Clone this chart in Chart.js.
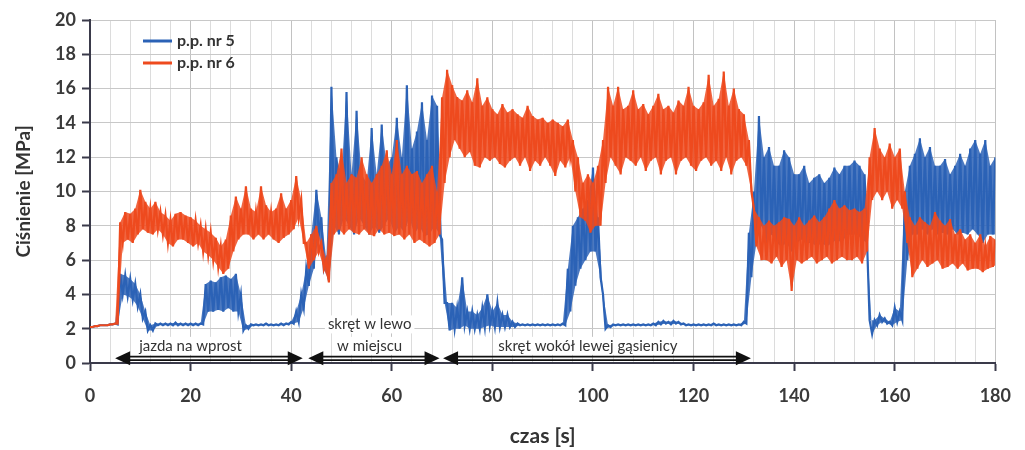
<!DOCTYPE html>
<html>
<head>
<meta charset="utf-8">
<script src="https://cdn.jsdelivr.net/npm/chart.js@4/dist/chart.umd.min.js"></script>
<style>
  body { margin: 0; background: #fff; }
  #wrap { width: 1025px; height: 450px; }
</style>
</head>
<body>
<div id="wrap"><canvas id="pressure" width="1025" height="450"></canvas></div>
<script>
// values read per second (t = 0..180): upper and lower edge of each noisy trace
const ppNr5Hi = [
  2.1, 2.15, 2.2, 2.2, 2.25, 2.3, 5.2, 5.1, 4.9, 4.6,
  4.0, 3.0, 2.2, 2.3, 2.3, 2.3, 2.3, 2.35, 2.3, 2.3,
  2.3, 2.3, 2.3, 4.6, 4.8, 4.7, 5.0, 5.1, 4.9, 5.2,
  4.0, 2.2, 2.25, 2.25, 2.25, 2.3, 2.25, 2.25, 2.3, 2.3,
  2.4, 3.0, 4.0, 5.5, 7.5, 10.1, 8.5, 6.0, 16.1, 12.0,
  11.0, 15.8, 11.0, 14.7, 11.0, 10.5, 13.7, 11.0, 13.9, 11.5,
  12.0, 14.3, 12.0, 16.2, 12.5, 13.5, 15.2, 13.0, 15.6, 15.0,
  7.2, 3.5, 3.5, 3.2, 5.0, 3.0, 3.0, 2.8, 3.2, 4.0,
  3.0, 3.5, 2.8, 2.8, 2.4, 2.3, 2.25, 2.25, 2.25, 2.25,
  2.25, 2.25, 2.25, 2.25, 2.3, 5.5, 8.0, 8.5, 9.0, 9.5,
  11.4, 8.5, 4.0, 2.2, 2.25, 2.25, 2.25, 2.25, 2.25, 2.25,
  2.25, 2.25, 2.3, 2.4, 2.45, 2.4, 2.45, 2.4, 2.3, 2.25,
  2.25, 2.25, 2.25, 2.25, 2.3, 2.25, 2.25, 2.25, 2.25, 2.25,
  2.4, 7.6, 10.0, 14.4, 12.0, 12.6, 11.5, 11.5, 12.4, 12.0,
  11.0, 11.0, 11.5, 10.5, 10.8, 11.0, 10.5, 10.8, 11.4, 11.0,
  11.5, 11.5, 11.8, 11.5, 11.0, 2.5, 2.5, 2.8, 2.6, 2.4,
  3.2, 3.0, 10.0, 11.5, 12.2, 13.1, 12.0, 12.6, 11.5, 11.5,
  11.9, 11.0, 11.5, 12.2, 11.5, 12.5, 13.0, 12.2, 13.0, 11.5,
  12.0
];
const ppNr5Lo = [
  2.1, 2.15, 2.2, 2.2, 2.25, 2.25, 4.0, 3.9, 3.7, 3.3,
  2.6, 1.9, 1.9, 2.2, 2.2, 2.2, 2.2, 2.2, 2.2, 2.2,
  2.2, 2.2, 2.25, 3.0, 3.0, 3.1, 3.0, 3.2, 3.0, 3.0,
  1.9, 2.0, 2.2, 2.2, 2.2, 2.2, 2.2, 2.2, 2.2, 2.25,
  2.3, 2.4, 3.2, 4.5, 5.5, 7.5, 5.5, 4.8, 8.0, 7.5,
  8.5, 8.0, 7.5, 8.5, 8.0, 7.5, 8.0, 7.6, 8.0, 8.5,
  7.5, 8.0, 7.6, 8.5, 7.5, 8.0, 7.4, 7.5, 8.0, 7.5,
  3.5, 1.9, 2.0, 2.0, 2.2, 2.0, 2.0, 2.0, 2.1, 2.2,
  2.1, 2.1, 2.1, 2.1, 2.1, 2.2, 2.2, 2.2, 2.2, 2.2,
  2.2, 2.2, 2.2, 2.2, 2.2, 3.0, 4.5, 5.5, 6.0, 6.5,
  6.5, 5.0, 2.0, 2.1, 2.2, 2.2, 2.2, 2.2, 2.2, 2.2,
  2.2, 2.2, 2.2, 2.25, 2.3, 2.25, 2.3, 2.25, 2.2, 2.2,
  2.2, 2.2, 2.2, 2.2, 2.2, 2.2, 2.2, 2.2, 2.2, 2.2,
  2.3, 5.0, 7.0, 8.0, 7.0, 7.5, 7.0, 6.8, 7.0, 6.5,
  7.0, 7.2, 7.0, 7.0, 6.8, 7.0, 6.8, 7.0, 7.2, 7.0,
  7.5, 7.5, 7.5, 7.2, 7.0, 1.7, 2.2, 2.4, 2.3, 2.2,
  2.4, 2.5, 6.0, 7.5, 7.5, 7.8, 7.5, 7.8, 7.5, 7.6,
  7.5, 7.8, 7.5, 7.6, 7.5, 7.8, 7.5, 7.0, 7.5, 7.5,
  7.5
];
const ppNr6Hi = [
  2.1, 2.15, 2.2, 2.2, 2.25, 2.3, 8.2, 8.8, 8.7, 9.0,
  10.1, 9.4, 9.0, 9.4, 8.8, 8.6, 8.3, 8.7, 8.8, 8.6,
  8.5, 8.3, 8.0, 7.8, 7.6, 7.3, 6.8, 7.2, 8.6, 9.7,
  9.0, 10.3, 9.0, 8.8, 10.3, 9.2, 8.8, 9.0, 9.9, 9.0,
  9.5, 10.9, 9.5, 7.0, 7.5, 8.0, 7.0, 6.0, 10.5, 11.0,
  12.5, 10.5, 11.0, 10.8, 12.0, 11.0, 10.5, 11.0, 11.5, 12.4,
  11.0, 13.0, 11.0, 11.5, 11.0, 11.2, 10.5, 11.0, 11.5, 10.0,
  15.5, 17.1, 16.2, 15.5, 15.3, 15.9, 15.2, 16.6, 15.0, 15.5,
  14.8, 14.5, 15.1, 14.6, 14.8, 14.5, 14.3, 15.0, 14.4, 14.2,
  14.3, 14.0, 14.2, 14.0, 13.8, 14.2, 13.0, 12.0, 10.5, 11.0,
  10.5, 11.5, 13.0, 16.1, 15.0, 16.1, 14.8, 15.0, 15.9, 14.8,
  15.1, 14.5, 15.0, 15.7, 14.8, 15.0, 14.6, 15.3, 15.0, 16.1,
  15.0, 14.8, 15.2, 16.8, 15.0, 15.4, 17.0, 15.0, 16.0, 14.8,
  14.5, 13.0, 9.0, 8.5, 8.0, 8.3, 8.0, 8.2, 8.5, 8.4,
  8.0, 8.5, 8.0, 8.3, 8.6, 8.2, 8.5, 9.0, 9.5, 9.0,
  9.2, 8.9, 9.0, 8.8, 9.0, 12.0, 13.7, 12.5, 12.0, 12.8,
  12.0, 12.5, 10.0, 8.5, 8.0, 8.5, 8.2, 8.0, 8.8, 8.3,
  8.0, 8.4, 7.5, 7.8, 7.2, 7.5, 7.0, 7.5, 6.8, 7.4,
  7.2
];
const ppNr6Lo = [
  2.1, 2.15, 2.2, 2.2, 2.25, 2.3, 7.0, 7.2, 7.0, 7.5,
  7.8, 7.6, 7.5, 7.8, 7.5, 7.0, 6.8, 7.2, 7.2, 7.0,
  6.8, 7.0, 6.5, 6.3, 6.0, 5.6, 5.2, 5.5, 6.5, 7.2,
  7.5, 7.5, 7.2, 7.5, 7.2, 7.5, 7.2, 7.0, 7.3, 7.5,
  7.8, 8.5, 7.0, 5.5, 6.0, 6.5, 5.5, 4.7, 7.5, 7.8,
  7.5, 7.8, 7.6, 7.5, 7.8, 7.5, 7.4, 7.8, 7.5, 7.6,
  7.4, 7.5, 7.2, 7.5, 7.0, 7.2, 7.0, 6.8, 7.0, 7.5,
  10.5, 12.0, 13.0, 12.5, 12.0, 12.3, 11.5, 11.4, 12.0, 11.8,
  12.0, 11.6, 11.4, 11.8, 12.0, 11.5, 12.0, 11.2, 11.8, 11.5,
  12.0, 11.5, 10.9, 11.8, 11.4, 12.0, 10.0, 8.5, 8.3, 7.6,
  8.0, 8.0, 10.5, 12.0, 11.5, 11.0, 12.0, 11.8, 11.5, 12.0,
  11.2, 11.8, 12.0, 11.0, 11.8, 12.0, 11.0, 11.8, 12.0, 11.5,
  11.2, 11.8, 12.0, 11.5, 11.8, 11.2, 12.0, 11.0, 11.8, 12.0,
  11.5, 10.0, 6.8, 6.0, 6.0, 5.8, 6.2, 5.6, 6.0, 4.2,
  6.0, 5.8, 6.0, 6.2, 5.8, 6.0, 6.2, 5.8, 6.0, 6.2,
  6.0, 6.0, 6.2, 5.8, 6.5, 9.5, 10.0, 9.5, 10.0, 9.0,
  9.5, 9.0, 7.0, 5.0, 5.5, 6.0, 5.6, 5.8, 6.0, 5.5,
  5.6, 5.8, 5.5, 5.8, 5.4, 5.5, 5.5, 5.3, 5.5, 5.6,
  5.8
];

// driving phases shown with arrows under the traces
const phaseFrom = [5.0, 43.4, 70.2];
const phaseTo = [42.3, 69.5, 131.4];
const phaseTextAt = [20, 55.6, 99];
const phaseText = [['jazda na wprost'], ['skręt w lewo', 'w miejscu'], ['skręt wokół lewej gąsienicy']];

const seriesNames = ['p.p. nr 5', 'p.p. nr 6'];
const blue = '#2b62b6';
const orange = '#ee4a1e';
const blueBand = 'rgba(43,98,182,0.85)';
const orangeBand = 'rgba(238,74,30,0.85)';
const fontFamily = 'Lato, "Open Sans", sans-serif';

// hi value at t, lo value half a second later -> dense zigzag trace
const zigzag = (hi, lo) => {
  const pts = [];
  hi.forEach((v, t) => {
    pts.push({x: t, y: v});
    if (t < hi.length - 1) pts.push({x: t + 0.5, y: lo[t]});
  });
  return pts;
};
const edge = (vals, shift) => vals.map((v, t) => ({x: t + shift, y: v}));

// invisible edge line, optionally filled towards another edge dataset
const bandSet = (vals, shift, color, fill, order) => ({
  data: edge(vals, shift),
  borderWidth: 0,
  borderColor: 'rgba(0,0,0,0)',
  backgroundColor: color,
  pointRadius: 0,
  fill: fill,
  order: order
});

const extras = {
  id: 'extras',
  afterDraw(chart) {
    const ctx = chart.ctx;
    const xs = chart.scales.x;
    const ys = chart.scales.y;
    ctx.save();

    // arrows
    const ay = ys.getPixelForValue(0.27);
    phaseFrom.forEach((from, i) => {
      const x1 = xs.getPixelForValue(from);
      const x2 = xs.getPixelForValue(phaseTo[i]);
      ctx.strokeStyle = '#111';
      ctx.lineWidth = 1.8;
      [-1.7, 1.7].forEach(d => {
        ctx.beginPath();
        ctx.moveTo(x1 + 10, ay + d);
        ctx.lineTo(x2 - 10, ay + d);
        ctx.stroke();
      });
      ctx.fillStyle = '#111';
      ctx.beginPath();
      ctx.moveTo(x1, ay);
      ctx.lineTo(x1 + 15, ay - 7);
      ctx.lineTo(x1 + 15, ay + 7);
      ctx.closePath();
      ctx.fill();
      ctx.beginPath();
      ctx.moveTo(x2, ay);
      ctx.lineTo(x2 - 15, ay - 7);
      ctx.lineTo(x2 - 15, ay + 7);
      ctx.closePath();
      ctx.fill();

      // label(s) with white box
      ctx.font = '15px ' + fontFamily;
      ctx.textAlign = 'center';
      ctx.textBaseline = 'middle';
      const lines = phaseText[i];
      const cx = xs.getPixelForValue(phaseTextAt[i]);
      lines.forEach((txt, k) => {
        const ty = ys.getPixelForValue(1.0 + 1.25 * (lines.length - 1 - k));
        const w = ctx.measureText(txt).width;
        ctx.fillStyle = '#fff';
        ctx.fillRect(cx - w / 2 - 3, ty - 9, w + 6, 18);
        ctx.fillStyle = '#333';
        ctx.fillText(txt, cx, ty);
      });
    });

    // legend inside the plot
    [blue, orange].forEach((c, i) => {
      const ly = 41 + i * 22;
      ctx.strokeStyle = c;
      ctx.lineWidth = 3;
      ctx.beginPath();
      ctx.moveTo(143, ly);
      ctx.lineTo(172, ly);
      ctx.stroke();
      ctx.fillStyle = '#333';
      ctx.font = 'bold 16px ' + fontFamily;
      ctx.textAlign = 'left';
      ctx.textBaseline = 'middle';
      ctx.fillText(seriesNames[i], 177, ly);
    });
    ctx.restore();
  }
};

const tickFont = {family: fontFamily, size: 18, weight: 'bold'};

new Chart(document.getElementById('pressure'), {
  type: 'line',
  data: {
    datasets: [
      bandSet(ppNr5Hi, 0, blueBand, false, 4),
      bandSet(ppNr5Lo, 0.5, blueBand, 0, 4),
      bandSet(ppNr6Hi, 0, orangeBand, false, 2),
      bandSet(ppNr6Lo, 0.5, orangeBand, 2, 2),
      {
        label: seriesNames[0],
        data: zigzag(ppNr5Hi, ppNr5Lo),
        borderColor: blue,
        borderWidth: 2.2,
        pointRadius: 0,
        fill: false,
        order: 3
      },
      {
        label: seriesNames[1],
        data: zigzag(ppNr6Hi, ppNr6Lo),
        borderColor: orange,
        borderWidth: 2.2,
        pointRadius: 0,
        fill: false,
        order: 1
      }
    ]
  },
  options: {
    responsive: false,
    animation: false,
    layout: {padding: {top: 20, right: 19, left: 0, bottom: 0}},
    plugins: {legend: {display: false}, tooltip: {enabled: false}},
    scales: {
      x: {
        type: 'linear',
        min: 0,
        max: 180,
        afterFit: s => { s.height = 87; },
        ticks: {
          stepSize: 4,
          autoSkip: false,
          maxRotation: 0,
          padding: 14,
          color: '#3a3a3a',
          font: tickFont,
          callback: v => (v % 20 === 0 ? v : '')
        },
        grid: {
          color: c => (c.tick && c.tick.value % 20 === 0 ? '#c2c2c2' : '#dcdcdc'),
          lineWidth: 1,
          tickLength: 8,
          tickWidth: 2,
          tickColor: c => (c.tick && c.tick.value % 20 === 0 ? '#3a3a4a' : 'rgba(0,0,0,0)')
        },
        border: {color: '#3a3a4a', width: 2},
        title: {
          display: true,
          text: 'czas [s]',
          color: '#333',
          font: {family: fontFamily, size: 21, weight: 'bold'},
          padding: {top: 0, bottom: 1}
        }
      },
      y: {
        min: 0,
        max: 20,
        afterFit: s => { s.width = 90; },
        ticks: {stepSize: 2, padding: 6, color: '#3a3a3a', font: tickFont},
        grid: {color: '#c8c8c8', lineWidth: 1, tickLength: 8, tickWidth: 2, tickColor: '#3a3a4a'},
        border: {color: '#3a3a4a', width: 2},
        title: {
          display: true,
          text: 'Ciśnienie [MPa]',
          color: '#333',
          font: {family: fontFamily, size: 19, weight: 'bold'},
          padding: {top: 12, bottom: 0}
        }
      }
    }
  },
  plugins: [extras]
});
</script>
</body>
</html>
